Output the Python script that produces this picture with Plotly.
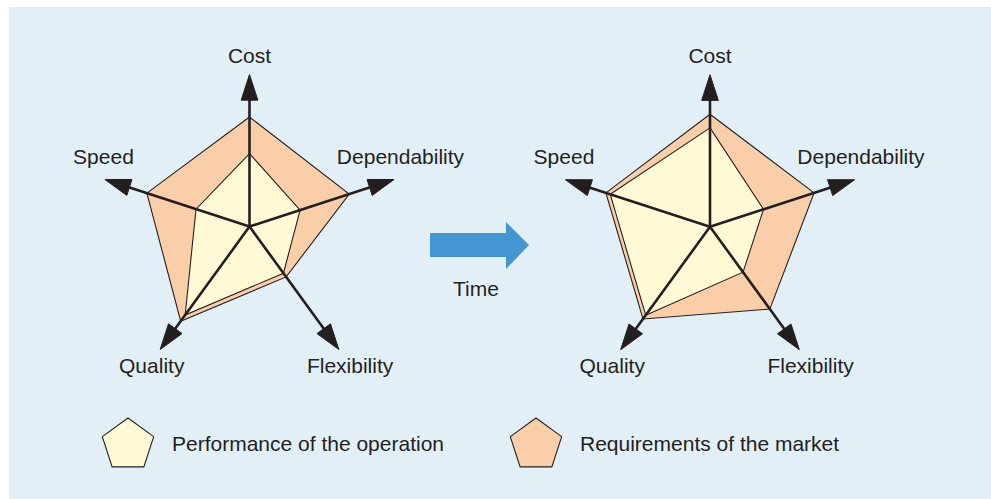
import plotly.graph_objects as go

# Data
axes = ["Cost", "Dependability", "Flexibility", "Quality", "Speed"]
before_market = [7.2, 6.9, 4.1, 7.7, 7.1]
before_perf = [4.8, 3.5, 3.8, 7.2, 3.7]
after_market = [7.4, 7.2, 6.7, 7.5, 7.2]
after_perf = [6.5, 3.7, 3.7, 7.2, 6.9]
axis_max = 10
legend_labels = ["Performance of the operation", "Requirements of the market"]
time_label = "Time"

W, H = 991, 499
BG = "#e3eff7"
INK = "#231f20"
PERF_COL = "#fffad5"
MARKET_COL = "#fbceaa"
ARROW_BLUE = "#4396d2"
FONT = "Liberation Sans, Arial, sans-serif"

# angle (clockwise from top) of each axis
thetas = [i * 360 / len(axes) for i in range(len(axes))]
# label placement around each arrow tip
label_r = [11.1, 10.9, 11.4, 11.3, 10.6]
label_dtheta = [0, -6.3, 0.5, -1.3, 7.0]

fig = go.Figure()


def closed(vals):
    return list(vals) + [vals[0]]


def add_radar(subplot, market, perf):
    fig.add_trace(go.Scatterpolar(
        r=closed(market), theta=closed(thetas), mode="lines", fill="toself",
        fillcolor=MARKET_COL, line=dict(color=INK, width=1.1),
        subplot=subplot, showlegend=False, hoverinfo="skip"))
    fig.add_trace(go.Scatterpolar(
        r=closed(perf), theta=closed(thetas), mode="lines", fill="toself",
        fillcolor=PERF_COL, line=dict(color=INK, width=1.1),
        subplot=subplot, showlegend=False, hoverinfo="skip"))
    for t in thetas:
        fig.add_trace(go.Scatterpolar(
            r=[0, axis_max], theta=[t, t], mode="lines+markers",
            line=dict(color=INK, width=2.6),
            marker=dict(symbol="arrow", size=[0, 27], angleref="previous",
                        color=INK, opacity=1, line=dict(color=INK, width=1)),
            subplot=subplot, showlegend=False, hoverinfo="skip"))
    fig.add_trace(go.Scatterpolar(
        r=label_r, theta=[t + d for t, d in zip(thetas, label_dtheta)],
        mode="text", text=axes, textposition="middle center",
        textfont=dict(family=FONT, size=21, color=INK),
        subplot=subplot, showlegend=False, hoverinfo="skip"))


add_radar("polar", before_market, before_perf)
add_radar("polar2", after_market, after_perf)

# legend markers on a hidden pixel-scaled cartesian axis
fig.add_trace(go.Scatter(
    x=[128, 536], y=[445, 445], mode="markers",
    marker=dict(symbol="pentagon", size=54, color=[PERF_COL, MARKET_COL],
                line=dict(color=INK, width=1.1)),
    showlegend=False, hoverinfo="skip"))

for x, txt in zip([170, 578], legend_labels):
    fig.add_annotation(x=x, y=443, text=txt, showarrow=False, xanchor="left",
                       yanchor="middle", xref="x", yref="y",
                       font=dict(family=FONT, size=21, color=INK))

fig.add_annotation(x=476, y=288, text=time_label, showarrow=False,
                   xref="x", yref="y", font=dict(family=FONT, size=21, color=INK))

# background panel
fig.add_shape(type="rect", x0=9, y0=7, x1=W + 5, y1=H + 5, xref="x", yref="y",
              fillcolor=BG, line=dict(width=0), layer="below")

# Time block arrow
arrow_pts = [(430, 233), (506, 233), (506, 222), (529, 245), (506, 269),
             (506, 257), (430, 257)]
path = "M " + " L ".join(f"{x},{y}" for x, y in arrow_pts) + " Z"
fig.add_shape(type="path", path=path, xref="x", yref="y",
              fillcolor=ARROW_BLUE, line=dict(width=0), layer="below")

R = 12  # radial range
rad_px = R * 15.2


def polar_layout(cx, cy):
    return dict(
        domain=dict(x=[(cx - rad_px) / W, (cx + rad_px) / W],
                    y=[(H - cy - rad_px) / H, (H - cy + rad_px) / H]),
        bgcolor="rgba(0,0,0,0)",
        radialaxis=dict(range=[0, R], visible=False),
        angularaxis=dict(rotation=90, direction="clockwise", visible=False,
                         thetaunit="degrees"),
    )


fig.update_layout(
    width=W, height=H,
    margin=dict(l=0, r=0, t=0, b=0),
    paper_bgcolor="white", plot_bgcolor="rgba(0,0,0,0)",
    xaxis=dict(range=[0, W], visible=False, domain=[0, 1], fixedrange=True),
    yaxis=dict(range=[H, 0], visible=False, domain=[0, 1], fixedrange=True),
    polar=polar_layout(249.5, 226.5),
    polar2=polar_layout(710, 226.7),
    showlegend=False,
)

fig.write_html("out.html", config={"displayModeBar": False},
               post_script="document.body.style.margin='0';")
